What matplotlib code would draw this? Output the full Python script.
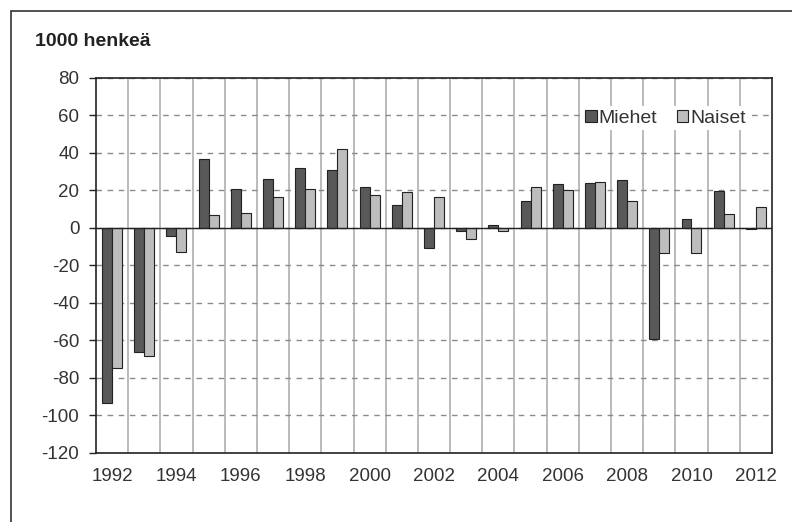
import numpy as np
import matplotlib
matplotlib.use("Agg")
import matplotlib.pyplot as plt
import matplotlib.patches as patches

plt.rcParams['font.family'] = ['Liberation Sans', 'DejaVu Sans']

years = list(range(1992, 2013))
miehet = [-93.5, -66, -4.4, 36.7, 20.4, 26, 32, 31, 21.5, 12.3, -11,
          -1.8, 1.2, 14, 23.4, 23.6, 25.4, -59.4, 4.9, 19.3, -0.7]
naiset = [-74.5, -68.5, -12.9, 7, 7.7, 16.6, 20.8, 42, 17.4, 19, 16.6,
          -6, -1.8, 21.8, 20.3, 24.3, 14.1, -13.4, -13.4, 7.5, 10.9]
y_ticks = list(range(-120, 81, 20))
title = "1000 henkeä"

fig = plt.figure(figsize=(7.92, 5.22), dpi=100)
ax = fig.add_axes([0.1212, 0.1322, 0.8535, 0.7193])

# outer frame (only top and left visible in the original)
frame = patches.Rectangle((0.014, -0.1), 1.1, 1.079, transform=fig.transFigure,
                          fill=False, edgecolor='#333333', linewidth=1.2)
fig.patches.append(frame)

x = np.arange(len(years))
w = 0.31
ax.bar(x - w / 2, miehet, w, color='#595959', edgecolor='#222222', linewidth=0.8,
       label='Miehet', zorder=3)
ax.bar(x + w / 2, naiset, w, color='#bdbdbd', edgecolor='#222222', linewidth=0.8,
       label='Naiset', zorder=3)

ax.set_xlim(-0.5, len(years) - 0.5)
ax.set_ylim(-120, 80)
ax.set_yticks(y_ticks)
ax.set_yticklabels([str(v) for v in y_ticks], fontsize=13.5, color='#333333')

ax.set_xticks(x[::2])
ax.set_xticklabels([str(y) for y in years[::2]], fontsize=13.5, color='#333333')
ax.set_xticks(np.arange(0.5, len(years) - 1, 1), minor=True)
ax.tick_params(axis='x', which='both', length=0, pad=11)
ax.tick_params(axis='y', length=5, width=1, pad=7, color='#222222')

ax.grid(axis='x', which='minor', color='#a8a8a8', linewidth=1.1, linestyle='-', zorder=0)
ax.grid(axis='y', which='major', color='#8a8a8a', linewidth=1.0,
        linestyle=(0, (4, 4)), zorder=0)
ax.axhline(0, color='#222222', linewidth=1.0, zorder=4)

for s in ax.spines.values():
    s.set_color('#222222')
    s.set_linewidth(1.2)

leg = ax.legend(loc='center right', bbox_to_anchor=(0.967, 0.892), ncol=2,
                fontsize=14, frameon=True, fancybox=False, handlelength=0.6,
                handleheight=0.6, handletextpad=0.1, columnspacing=1.0,
                borderpad=0.2, borderaxespad=0)
leg.get_frame().set_facecolor('white')
leg.get_frame().set_edgecolor('none')
leg.get_frame().set_alpha(1)
for t in leg.get_texts():
    t.set_color('#333333')

fig.text(0.044, 0.921, title, fontsize=14, fontweight='bold', color='#222222',
         ha='left', va='center')

fig.savefig("out.png", dpi=100)
